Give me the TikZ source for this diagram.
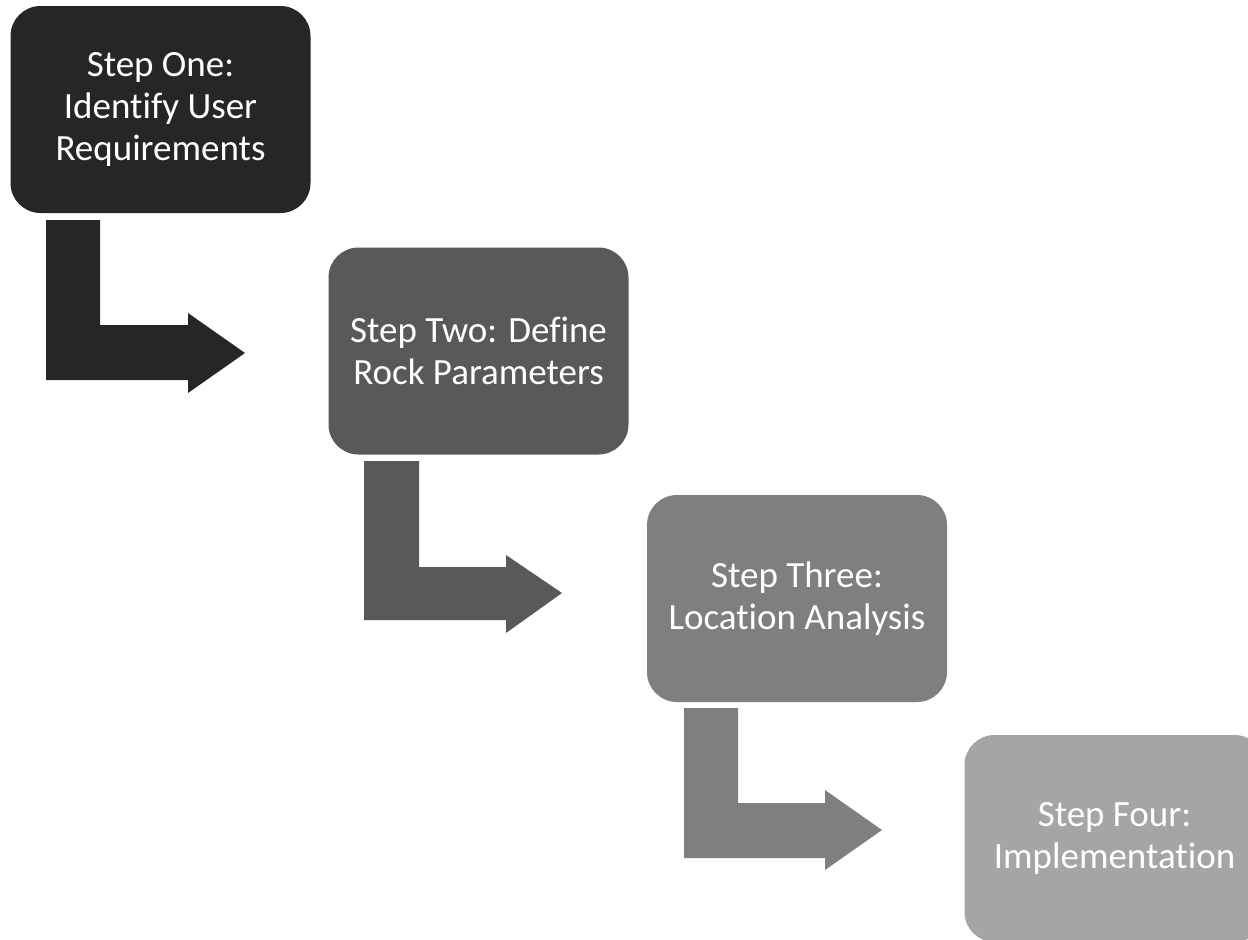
\documentclass[tikz,border=0pt]{standalone}
\usepackage{fontspec}
\setmainfont{Carlito}[Ligatures=NoCommon]
\definecolor{cone}{HTML}{262626}
\definecolor{ctwo}{HTML}{595959}
\definecolor{cthree}{HTML}{7F7F7F}
\definecolor{cfour}{HTML}{A5A5A5}
\tikzset{
  stepbox/.style={rectangle, rounded corners=15pt, inner sep=0pt,
    minimum width=150pt, minimum height=103.5pt, text=white, align=center,
    font=\fontsize{18.5pt}{21pt}\selectfont}
}
\begin{document}
\begin{tikzpicture}[x=0.5pt,y=-0.5pt]
\useasboundingbox (0,0) rectangle (1248,939);
\clip (0,0) rectangle (1248,939);
\node[stepbox, fill=cone] (s1) at (160.5,109.5) {Step One:\\Identify User\\Requirements};
\node[stepbox, fill=ctwo] (s2) at (478.5,351) {Step Two: Define\\Rock Parameters};
\node[stepbox, fill=cthree] (s3) at (797,598.5) {Step Three:\\Location Analysis};
\node[stepbox, fill=cfour] (s4) at (1114.5,838.5) {Step Four:\\Implementation};
\fill[cone] (46,220) -- (100,220) -- (100,325) -- (188,325) -- (188,313) -- (245,353) -- (188,393) -- (188,380) -- (46,380) -- cycle;
\fill[ctwo] (364,461) -- (419,461) -- (419,567) -- (506,567) -- (506,555) -- (562,593) -- (506,633) -- (506,620) -- (364,620) -- cycle;
\fill[cthree] (684,708) -- (738,708) -- (738,803) -- (825,803) -- (825,790) -- (882,830) -- (825,870) -- (825,858) -- (684,858) -- cycle;
\end{tikzpicture}
\end{document}
